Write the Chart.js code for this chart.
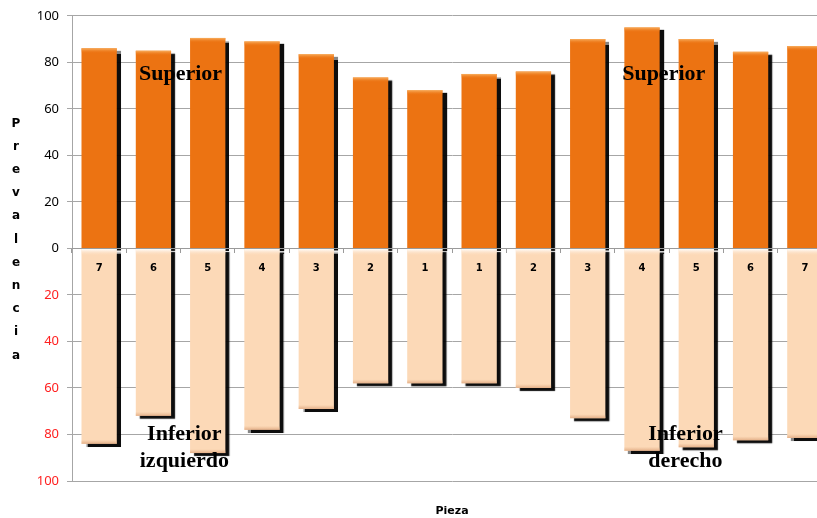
<!DOCTYPE html>
<html>
<head>
<meta charset="utf-8">
<script src="https://cdn.jsdelivr.net/npm/chart.js@4/dist/chart.umd.min.js"></script>
<style>
  html, body { margin: 0; padding: 0; background: #fff; overflow: hidden; }
  canvas { display: block; }
</style>
</head>
<body>
<canvas id="piezaChart" width="832" height="518"></canvas>
<script>
// Datos
const piezas = ['7', '6', '5', '4', '3', '2', '1', '1', '2', '3', '4', '5', '6', '7'];
const superior = [86, 85, 90.5, 89, 83.5, 73.5, 68, 75, 76, 90, 95, 90, 84.5, 87];
const inferior = [84, 72, 88, 78, 69, 58, 58, 58, 60, 73, 87, 85.5, 82.5, 81.5];
const yTitulo = 'Prevalencia';
const xTitulo = 'Pieza';

// Rótulos dentro del gráfico (x = índice de categoría, y = valor)
const rotulos = [
    { lineas: ['Superior'], x: 1.5, y: 75 },
    { lineas: ['Superior'], x: 10.4, y: 75 },
    { lineas: ['Inferior', 'izquierdo'], x: 1.57, y: -80 },
    { lineas: ['Inferior', 'derecho'], x: 10.8, y: -80 }
];

// Sombra negra de las barras + brillo en los bordes
const sombraBarras = {
    id: 'sombraBarras',
    beforeDatasetsDraw(chart) {
        const ctx = chart.ctx;
        ctx.save();
        ctx.shadowColor = 'rgba(0,0,0,0.95)';
        ctx.shadowBlur = 1;
        ctx.shadowOffsetX = 4;
        ctx.shadowOffsetY = 3;
    },
    afterDatasetsDraw(chart) {
        const ctx = chart.ctx;
        ctx.restore();
        ctx.save();
        chart.getDatasetMeta(0).data.forEach(b => {
            const l = b.x - b.width / 2;
            const g = ctx.createLinearGradient(0, b.y, 0, b.y + 5);
            g.addColorStop(0, '#f9b060');
            g.addColorStop(1, 'rgba(236,115,18,0)');
            ctx.fillStyle = g;
            ctx.fillRect(l, b.y, b.width, 5);
        });
        chart.getDatasetMeta(1).data.forEach(b => {
            const l = b.x - b.width / 2;
            const g = ctx.createLinearGradient(0, b.base, 0, b.base + 7);
            g.addColorStop(0, '#ffffff');
            g.addColorStop(1, 'rgba(252,217,183,0)');
            ctx.fillStyle = g;
            ctx.fillRect(l, b.base, b.width, 7);
            const g2 = ctx.createLinearGradient(0, b.y - 4, 0, b.y);
            g2.addColorStop(0, 'rgba(230,180,140,0)');
            g2.addColorStop(1, 'rgba(225,170,130,0.9)');
            ctx.fillStyle = g2;
            ctx.fillRect(l, b.y - 4, b.width, 4);
        });
        ctx.restore();
    }
};

// Título vertical letra por letra y rótulos
const textos = {
    id: 'textos',
    afterDraw(chart) {
        const ctx = chart.ctx;
        const { x, y } = chart.scales;
        const area = chart.chartArea;
        ctx.save();
        ctx.fillStyle = '#000';
        ctx.textAlign = 'center';
        ctx.textBaseline = 'middle';
        ctx.font = 'bold 12px "DejaVu Sans"';
        const letras = yTitulo.split('');
        const paso = 23.2;
        const centro = (area.top + area.bottom) / 2 - 9;
        letras.forEach((l, i) => {
            ctx.fillText(l, 16, centro + (i - (letras.length - 1) / 2) * paso);
        });

        ctx.font = 'bold 22px "Liberation Serif"';
        rotulos.forEach(r => {
            const px = x.getPixelForValue(r.x);
            const py = y.getPixelForValue(r.y);
            r.lineas.forEach((t, i) => ctx.fillText(t, px, py + i * 27));
        });
        ctx.restore();
    }
};

const ctx = document.getElementById('piezaChart').getContext('2d');
new Chart(ctx, {
    type: 'bar',
    data: {
        labels: piezas,
        datasets: [{
            label: 'Superior',
            data: superior,
            backgroundColor: '#EC7312',
            borderWidth: 0,
            order: 1,
            barPercentage: 0.65,
            categoryPercentage: 1
        }, {
            label: 'Inferior',
            data: inferior.map(v => -v),
            backgroundColor: '#FCD9B7',
            borderWidth: 0,
            order: 0,
            barPercentage: 0.65,
            categoryPercentage: 1
        }]
    },
    options: {
        responsive: false,
        animation: false,
        layout: { padding: { top: 10, right: 0, left: 0, bottom: 0 } },
        plugins: {
            legend: { display: false },
            tooltip: { enabled: false }
        },
        scales: {
            x: {
                stacked: true,
                position: { y: 0 },
                grid: { drawOnChartArea: false, tickLength: 4, color: '#9a9a9a', offset: true, z: 1 },
                border: { color: '#9a9a9a', z: 1 },
                ticks: { z: 1, color: '#000', padding: 10, font: { family: 'DejaVu Sans', size: 10, weight: 'bold' } }
            },
            x2: {
                type: 'category',
                labels: piezas,
                position: 'bottom',
                grid: { display: false },
                border: { display: false },
                ticks: { display: false },
                title: {
                    display: true,
                    text: xTitulo,
                    color: '#000',
                    font: { family: 'DejaVu Sans', size: 11, weight: 'bold' },
                    padding: { top: 20, bottom: 0 }
                },
                afterFit(scale) { scale.height = 37; }
            },
            y: {
                stacked: true,
                min: -100,
                max: 100,
                grid: { color: '#a6a6a6', tickLength: 5 },
                border: { color: '#a6a6a6' },
                ticks: {
                    stepSize: 20,
                    padding: 8,
                    color: c => c.tick.value < 0 ? '#ff2020' : '#000',
                    font: { family: 'Noto Sans', size: 13 },
                    callback: v => Math.abs(v)
                },
                afterFit(scale) { scale.width = 72; }
            }
        }
    },
    plugins: [sombraBarras, textos]
});
</script>
</body>
</html>
